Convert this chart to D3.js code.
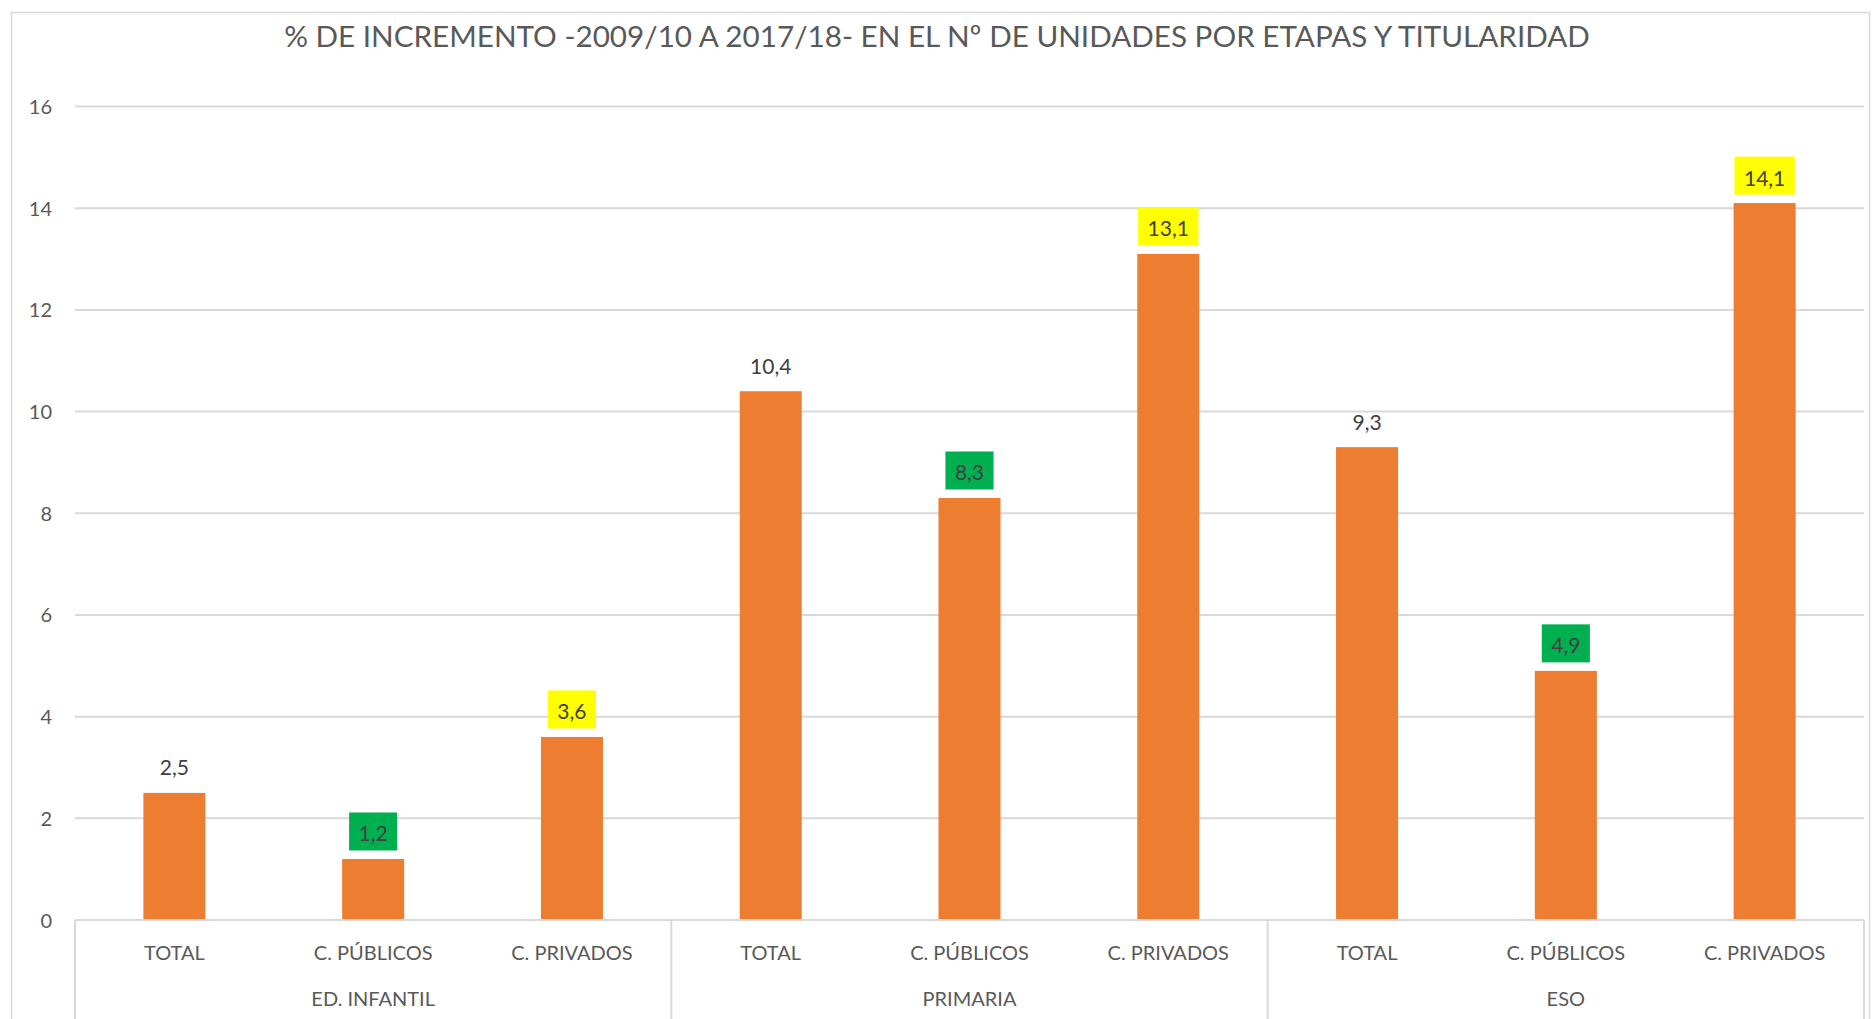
<!DOCTYPE html>
<html><head><meta charset="utf-8">
<script src="https://cdn.jsdelivr.net/npm/d3@7"></script>
<style>html,body{margin:0;padding:0;background:#fff;overflow:hidden}svg{display:block}</style>
</head><body>
<svg id="chart" width="1874" height="1019"></svg>
<script>
const title = "% DE INCREMENTO -2009/10 A 2017/18- EN EL Nº DE UNIDADES POR ETAPAS Y TITULARIDAD";
const groups = ["ED. INFANTIL", "PRIMARIA", "ESO"];
const subCategories = ["TOTAL", "C. PÚBLICOS", "C. PRIVADOS"];
const values = [2.5, 1.2, 3.6, 10.4, 8.3, 13.1, 9.3, 4.9, 14.1];
const yTicks = [0, 2, 4, 6, 8, 10, 12, 14, 16];
const highlight = {"TOTAL": null, "C. PÚBLICOS": "#00B050", "C. PRIVADOS": "#FFFF00"};

const data = [];
groups.forEach((g, gi) => subCategories.forEach((c, ci) => {
  data.push({group: g, cat: c, key: gi + "-" + ci, value: values[gi * subCategories.length + ci]});
}));

const font = "Lato, 'Open Sans', sans-serif";
const svg = d3.select("#chart");
const pLeft = 75, pRight = 1864, pTop = 106.5, pBottom = 920;

// frame
svg.append("rect").attr("x", 11.5).attr("y", 12.5).attr("width", 1858).attr("height", 1040)
  .attr("fill", "#fff").attr("stroke", "#d9d9d9").attr("stroke-width", 1.5);

const x = d3.scaleBand().domain(data.map(d => d.key)).range([pLeft, pRight])
  .paddingInner(0.688).paddingOuter(0.344);
const y = d3.scaleLinear().domain([0, 16]).range([pBottom, pTop]);
const loc = d3.formatLocale({decimal: ",", thousands: ".", grouping: [3], currency: ["", "€"]});
const fmt = loc.format(".1f");

// gridlines
svg.append("g").selectAll("line").data(yTicks.filter(t => t > 0)).join("line")
  .attr("x1", pLeft).attr("x2", pRight).attr("y1", d => y(d)).attr("y2", d => y(d))
  .attr("stroke", "#d9d9d9").attr("stroke-width", 2);

// y axis labels
const yAxis = d3.axisLeft(y).tickValues(yTicks).tickSize(0).tickPadding(0).tickFormat(d3.format("d"));
const yg = svg.append("g").attr("transform", `translate(52,0)`).call(yAxis);
yg.select(".domain").remove();
yg.selectAll("text").attr("font-family", font).attr("font-size", 20).attr("fill", "#595959").attr("dy", "0.35em");

// bars
svg.append("g").selectAll("rect").data(data).join("rect")
  .attr("x", d => x(d.key)).attr("width", x.bandwidth())
  .attr("y", d => y(d.value)).attr("height", d => y(0) - y(d.value))
  .attr("fill", "#ED7D31");

// x axis baseline
svg.append("line").attr("x1", pLeft).attr("x2", pRight).attr("y1", pBottom).attr("y2", pBottom)
  .attr("stroke", "#d9d9d9").attr("stroke-width", 2);

// group separators
const step = x.step();
const seps = d3.range(groups.length + 1).map(i => pLeft + i * subCategories.length * step);
svg.append("g").selectAll("line").data(seps).join("line")
  .attr("x1", d => d).attr("x2", d => d).attr("y1", pBottom).attr("y2", 1019)
  .attr("stroke", "#d9d9d9").attr("stroke-width", 2);

// category labels
svg.append("g").selectAll("text").data(data).join("text")
  .attr("x", d => x(d.key) + x.bandwidth() / 2).attr("y", 953).attr("dy", "0.35em")
  .attr("text-anchor", "middle").attr("font-family", font).attr("font-size", 20).attr("fill", "#595959")
  .text(d => d.cat);

// group labels
svg.append("g").selectAll("text").data(groups).join("text")
  .attr("x", (d, i) => (seps[i] + seps[i + 1]) / 2).attr("y", 999).attr("dy", "0.35em")
  .attr("text-anchor", "middle").attr("font-family", font).attr("font-size", 20).attr("fill", "#595959")
  .text(d => d);

// data labels
const lg = svg.append("g");
data.forEach(d => {
  const cx = x(d.key) + x.bandwidth() / 2;
  const base = y(d.value) - 17.5;
  const g = lg.append("g");
  const bg = g.append("rect");
  const t = g.append("text").attr("x", cx).attr("y", base).attr("text-anchor", "middle")
    .attr("font-family", font).attr("font-size", 21).attr("fill", "#404040").text(fmt(d.value));
  const col = highlight[d.cat];
  if (col) {
    const w = t.node().getComputedTextLength() + 19;
    bg.attr("x", cx - w / 2).attr("y", base - 29).attr("width", w).attr("height", 38).attr("fill", col);
  } else bg.remove();
});

// title
const tt = svg.append("text").attr("x", 937).attr("y", 37).attr("dy", "0.35em").attr("text-anchor", "middle")
  .attr("font-family", font).attr("font-size", 28).attr("fill", "#595959").text(title);
const tw = tt.node().getComputedTextLength();
tt.attr("font-size", 28 * 1306 / tw);
</script>
</body></html>
